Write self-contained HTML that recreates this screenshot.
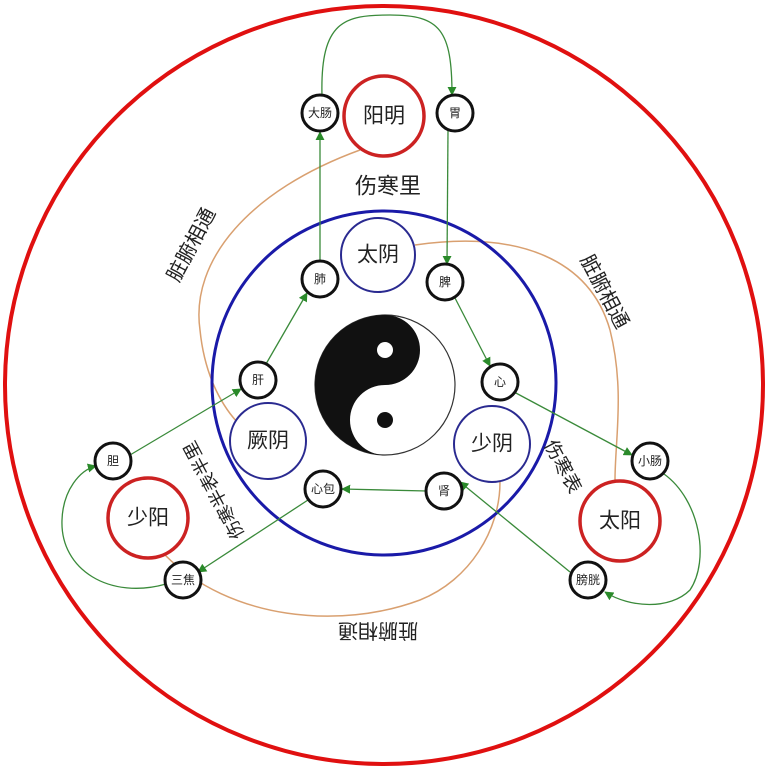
<!DOCTYPE html>
<html><head><meta charset="utf-8"><style>
html,body{margin:0;padding:0;background:#fff;}
svg{display:block;}
text{font-family:"Liberation Sans","Noto Sans CJK SC",sans-serif;fill:#222;text-anchor:middle;dominant-baseline:central;}
</style></head><body>
<svg width="768" height="770" viewBox="0 0 768 770" xmlns="http://www.w3.org/2000/svg">
<defs>
<marker id="ar" viewBox="0 0 10 10" refX="9" refY="5" markerWidth="7" markerHeight="7" orient="auto"><path d="M0,0 L10,5 L0,10 z" fill="#2a8a2a"/></marker>
</defs>
<rect width="768" height="770" fill="#fff"/>
<circle cx="384" cy="385" r="379" fill="none" stroke="#e01010" stroke-width="4"/>

<!-- orange 脏腑相通 curves -->
<g fill="none" stroke="#d9a070" stroke-width="1.5">
<path d="M360,150 C250,190 190,260 200,330 C205,380 225,410 240,425"/>
<path d="M415,245 C520,230 590,260 610,330 C625,390 615,440 615,480"/>
<path d="M165,555 C230,620 340,630 420,600 C470,580 500,530 500,482"/>
</g>

<circle cx="384" cy="383" r="172" fill="none" stroke="#1a1aa8" stroke-width="3"/>

<!-- green arrows -->
<g fill="none" stroke="#3a8a3a" stroke-width="1.3" marker-end="url(#ar)">
<path d="M320,262 L320,132"/>
<path d="M322,96 C320,20 345,15 390,15 C440,15 452,30 452,95"/>
<path d="M448,130 L447,264"/>
<path d="M455,298 L490,366"/>
<path d="M514,392 L632,455"/>
<path d="M664,474 C700,500 710,560 690,590 C670,610 630,608 605,592"/>
<path d="M570,572 L460,482"/>
<path d="M427,491 L342,489"/>
<path d="M308,500 L198,572"/>
<path d="M166,584 C110,600 60,570 62,520 C63,490 80,470 96,466"/>
<path d="M130,455 L241,389"/>
<path d="M266,364 L307,293"/>
</g>

<!-- yin yang -->
<circle cx="385" cy="385" r="70" fill="#fff" stroke="#333" stroke-width="1.2"/>
<path d="M385,315 A70,70 0 0 0 385,455 A35,35 0 0 1 385,385 A35,35 0 0 0 385,315 Z" fill="#111"/>
<circle cx="385" cy="350" r="8" fill="#fff"/>
<circle cx="385" cy="420" r="8" fill="#111"/>

<!-- big circles -->
<g fill="#fff" stroke-width="3.5" stroke="#cc2222">
<circle cx="384" cy="116" r="40"/>
<circle cx="148" cy="518" r="40"/>
<circle cx="620" cy="521" r="40"/>
</g>
<g fill="#fff" stroke-width="2" stroke="#2a2a90">
<circle cx="378" cy="255" r="37"/>
<circle cx="268" cy="441" r="38"/>
<circle cx="492" cy="444" r="38"/>
</g>
<g font-size="21">
<text x="384" y="116">阳明</text>
<text x="378" y="255">太阴</text>
<text x="268" y="441">厥阴</text>
<text x="492" y="444">少阴</text>
<text x="148" y="518">少阳</text>
<text x="620" y="521">太阳</text>
</g>

<!-- small circles -->
<g fill="#fff" stroke="#111" stroke-width="3">
<circle cx="320" cy="113" r="18"/><circle cx="455" cy="113" r="18"/>
<circle cx="320" cy="279" r="18"/><circle cx="445" cy="282" r="18"/>
<circle cx="258" cy="380" r="18"/><circle cx="500" cy="382" r="18"/>
<circle cx="113" cy="461" r="18"/><circle cx="650" cy="461" r="18"/>
<circle cx="323" cy="489" r="18"/><circle cx="444" cy="491" r="18"/>
<circle cx="183" cy="580" r="18"/><circle cx="588" cy="580" r="18"/>
</g>
<g font-size="12">
<text x="320" y="113">大肠</text><text x="455" y="113">胃</text>
<text x="320" y="279">肺</text><text x="445" y="282">脾</text>
<text x="258" y="380">肝</text><text x="500" y="382">心</text>
<text x="113" y="461">胆</text><text x="650" y="461">小肠</text>
<text x="323" y="489">心包</text><text x="444" y="491">肾</text>
<text x="183" y="580">三焦</text><text x="588" y="580">膀胱</text>
</g>

<!-- labels -->
<text x="388" y="186" font-size="22">伤寒里</text>
<text x="0" y="0" font-size="20" transform="translate(192,245) rotate(-62)">脏腑相通</text>
<text x="0" y="0" font-size="20" transform="translate(604,292) rotate(62)">脏腑相通</text>
<text x="0" y="0" font-size="20" transform="translate(378,630) rotate(180)">脏腑相通</text>
<text x="0" y="0" font-size="19" transform="translate(562,467) rotate(62)">伤寒表</text>
<text x="0" y="0" font-size="18" transform="translate(214,490) rotate(-118)">伤寒半表半里</text>
</svg>
</body></html>
